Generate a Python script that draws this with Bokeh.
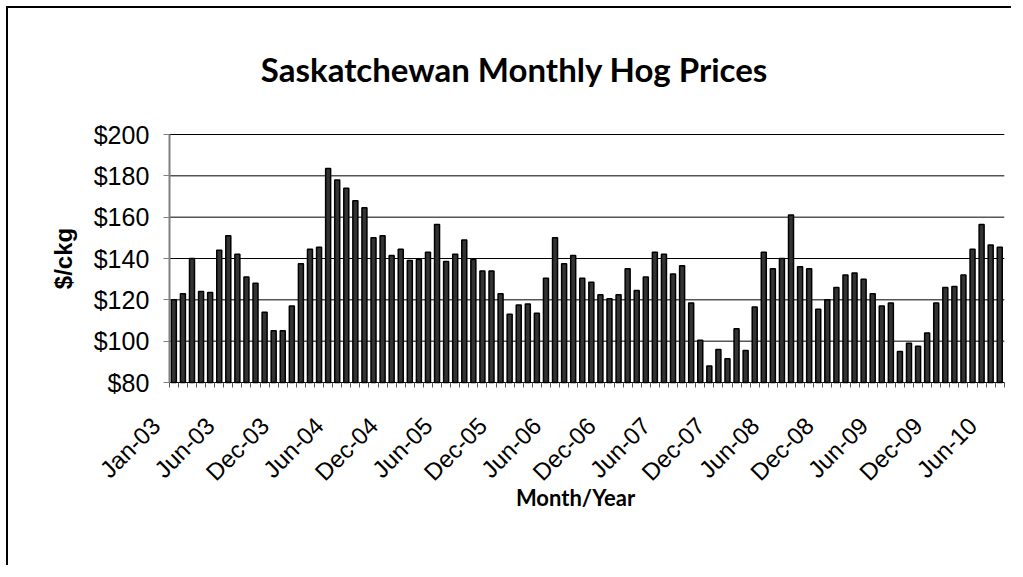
import math
from bokeh.plotting import figure
from bokeh.models import (FixedTicker, Range1d, Label, LabelSet, ColumnDataSource)
from bokeh.core.properties import value
from bokeh.embed import file_html
from bokeh.resources import INLINE

title_text = "Saskatchewan Monthly Hog Prices"
x_title = "Month/Year"
y_title = "$/ckg"

# Monthly prices ($/ckg), one bar per month, first bar = Jan-03
prices = [120, 123, 140, 124, 123.5, 144, 151, 142, 131, 128,
          114, 105, 105, 117, 137.5, 144.5, 145.5, 183.5, 178, 174,
          168, 164.5, 150, 151, 141.5, 144.5, 139, 139.5, 143, 156.5,
          138.5, 142, 149, 139.5, 134, 134, 123, 113, 117.5, 118,
          113.5, 130.5, 150, 137.5, 141.5, 130.5, 128.5, 122.5, 120.5, 122.5,
          135, 124.5, 131, 143, 142, 132.5, 136.5, 118.5, 100.5, 88,
          96, 91.5, 106, 95.5, 116.5, 143, 135, 140, 161, 136,
          135, 115.5, 120, 126, 132, 133, 130, 123, 117, 118.5,
          95, 99, 97.5, 104, 118.5, 126, 126.5, 132, 144.5, 156.5,
          146.5, 145.5]

tick_labels = ["Jan-03", "Jun-03", "Dec-03", "Jun-04", "Dec-04", "Jun-05",
               "Dec-05", "Jun-06", "Dec-06", "Jun-07", "Dec-07", "Jun-08",
               "Dec-08", "Jun-09", "Dec-09", "Jun-10"]
tick_step = 6

y_ticks = [80, 100, 120, 140, 160, 180, 200]
y_tick_labels = ["$80", "$100", "$120", "$140", "$160", "$180", "$200"]
y_min, y_max = 80, 200

n = len(prices)
xs = list(range(n))

# canvas geometry (px); the plot area occupies a sub-rectangle of the canvas
W, H = 1005, 559
area_left, area_right, area_top, area_bottom = 160.8, 995.8, 126.0, 374.0
px_x = (area_right - area_left) / n
px_y = (area_bottom - area_top) / (y_max - y_min)
x0 = -0.5 - area_left / px_x
x1 = n - 0.5 + (W - area_right) / px_x
y1 = y_max + area_top / px_y
y0 = y_min - (H - area_bottom) / px_y

p = figure(width=W, height=H, output_backend="svg", toolbar_location=None,
           x_range=Range1d(x0, x1), y_range=Range1d(y0, y1),
           min_border=0)
p.outline_line_color = None
p.background_fill_color = "white"
p.border_fill_color = "white"
p.styles = {"margin-left": "8px", "margin-top": "8px",
            "box-shadow": "-2px -2px 0px 0px black"}

# horizontal gridlines limited to the plot area
p.xgrid.visible = False
p.ygrid.visible = False
grid_vals = y_ticks[1:]
p.segment(x0=[-0.5] * len(grid_vals), x1=[n - 0.5] * len(grid_vals),
          y0=grid_vals, y1=grid_vals, line_color="black", line_width=1)

p.vbar(x=xs, top=prices, bottom=y_min, width=0.55, fill_color="#333333",
       line_color="black", line_width=1.5)

# y axis
ya = p.yaxis[0]
ya.fixed_location = -0.5
ya.bounds = (y_min, y_max)
ya.ticker = FixedTicker(ticks=y_ticks)
ya.major_label_overrides = {v: s for v, s in zip(y_ticks, y_tick_labels)}
ya.major_label_text_font = "Liberation Sans"
ya.major_label_text_font_size = "25px"
ya.major_label_text_color = "black"
ya.major_tick_out = 6
ya.major_tick_in = 0
ya.major_label_standoff = 14
ya.minor_tick_line_color = None
ya.axis_line_color = "#808080"
ya.axis_line_width = 2
ya.major_tick_line_color = "#808080"

# x axis: only category boundary ticks
xa = p.xaxis[0]
xa.fixed_location = y_min
xa.bounds = (-0.5, n - 0.5)
bounds = [i - 0.5 for i in range(n + 1)]
xa.ticker = FixedTicker(ticks=[], minor_ticks=bounds)
xa.minor_tick_out = 5
xa.minor_tick_in = 0
xa.minor_tick_line_color = "#555555"
xa.major_tick_line_color = None
xa.axis_line_color = "black"
xa.axis_line_width = 1

# x tick labels (rotated)
lab_src = ColumnDataSource(dict(x=[i * tick_step for i in range(len(tick_labels))],
                                y=[y_min] * len(tick_labels),
                                text=tick_labels))
p.add_layout(LabelSet(x="x", y="y", text="text", source=lab_src,
                      x_offset=-18, y_offset=-39,
                      angle=math.pi / 4, text_align="right", text_baseline="middle",
                      text_font=value("Liberation Sans"), text_font_size="24px",
                      text_color="black"))

# titles (canvas coordinates measured from the top, converted to screen units)
p.add_layout(Label(x=506, y=H - 60, x_units="screen", y_units="screen", text=title_text,
                   text_font="Lato", text_font_style="bold", text_font_size="33px",
                   text_align="center", text_baseline="middle", text_color="black"))
p.add_layout(Label(x=567, y=H - 489, x_units="screen", y_units="screen", text=x_title,
                   text_font="Lato", text_font_style="bold", text_font_size="22px",
                   text_align="center", text_baseline="middle", text_color="black"))
p.add_layout(Label(x=55, y=H - 250, x_units="screen", y_units="screen", text=y_title,
                   angle=math.pi / 2, text_font="Liberation Sans", text_font_style="bold",
                   text_font_size="24px", text_align="center", text_baseline="middle",
                   text_color="black"))

open("out.html", "w").write(file_html(p, INLINE))
